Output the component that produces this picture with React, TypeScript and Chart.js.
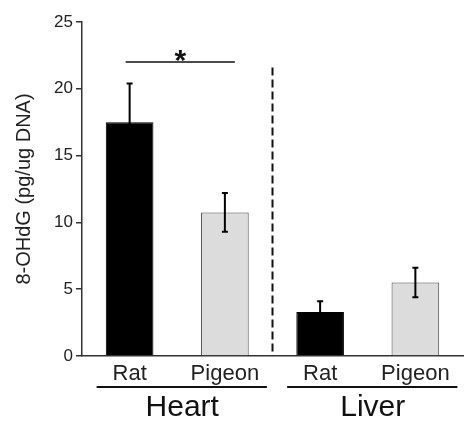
import React, { useEffect, useRef } from "react";
import { Chart, registerables } from "chart.js";

Chart.register(...registerables);

const categories = ["Rat", "Pigeon", "Rat", "Pigeon"];
const groups = ["Heart", "Liver"];
const values = [17.5, 10.75, 3.3, 5.5];
const errors = [2.9, 1.45, 0.8, 1.1];
const barColors = ["#000000", "#dcdcdc", "#000000", "#dcdcdc"];
const barBorders = ["#000000", "#444444", "#000000", "#444444"];
const yTicks = [0, 5, 10, 15, 20, 25];
const sigLevel = 22;
const dividerTop = 21.6;

const FONT = "'Liberation Sans', Arial, sans-serif";

const annotPlugin = {
  id: "annot",
  afterDatasetsDraw(chart: any) {
    const ctx = chart.ctx;
    const x = chart.scales.x;
    const y = chart.scales.y;
    const area = chart.chartArea;
    ctx.save();
    // error bars
    ctx.strokeStyle = "#000";
    ctx.lineWidth = 2;
    values.forEach((v, i) => {
      const cx = x.getPixelForValue(i);
      const top = y.getPixelForValue(v + errors[i]);
      const bot = y.getPixelForValue(v - errors[i]);
      ctx.beginPath();
      ctx.moveTo(cx, top);
      ctx.lineTo(cx, bot);
      ctx.moveTo(cx - 3, top);
      ctx.lineTo(cx + 3, top);
      ctx.moveTo(cx - 3, bot);
      ctx.lineTo(cx + 3, bot);
      ctx.stroke();
    });
    // dashed divider
    const dx = (x.getPixelForValue(1) + x.getPixelForValue(2)) / 2;
    ctx.setLineDash([8, 4]);
    ctx.lineWidth = 2;
    ctx.strokeStyle = "#111";
    ctx.beginPath();
    ctx.moveTo(dx, y.getPixelForValue(dividerTop));
    ctx.lineTo(dx, area.bottom);
    ctx.stroke();
    ctx.setLineDash([]);
    // significance line
    const sx0 = x.getPixelForValue(0) - 4;
    const sx1 = x.getPixelForValue(1) + 10;
    const sy = y.getPixelForValue(sigLevel);
    ctx.lineWidth = 1.5;
    ctx.beginPath();
    ctx.moveTo(sx0, sy);
    ctx.lineTo(sx1, sy);
    ctx.stroke();
    ctx.fillStyle = "#111";
    ctx.font = `bold 30px ${FONT}`;
    ctx.textAlign = "center";
    ctx.textBaseline = "alphabetic";
    ctx.fillText("*", (sx0 + sx1) / 2, sy + 8);
    ctx.restore();
  },
  afterDraw(chart: any) {
    const ctx = chart.ctx;
    const x = chart.scales.x;
    const area = chart.chartArea;
    ctx.save();
    ctx.strokeStyle = "#111";
    ctx.lineWidth = 2;
    ctx.fillStyle = "#111";
    ctx.font = `30px ${FONT}`;
    ctx.textAlign = "center";
    ctx.textBaseline = "middle";
    groups.forEach((g, gi) => {
      const a = x.getPixelForValue(gi * 2);
      const b = x.getPixelForValue(gi * 2 + 1);
      const ly = area.bottom + 31;
      ctx.beginPath();
      ctx.moveTo(a - 33, ly);
      ctx.lineTo(b + 42, ly);
      ctx.stroke();
      ctx.fillText(g, (a + b) / 2 + 5, area.bottom + 52);
    });
    ctx.restore();
  },
};

export default function App() {
  const ref = useRef<HTMLCanvasElement>(null);
  useEffect(() => {
    if (!ref.current) return;
    const chart = new Chart(ref.current, {
      type: "bar",
      data: {
        labels: categories,
        datasets: [
          {
            data: values,
            backgroundColor: barColors,
            borderColor: barBorders,
            borderWidth: 1,
            barPercentage: 0.5,
            categoryPercentage: 1,
          },
        ],
      },
      options: {
        responsive: false,
        animation: false,
        layout: { padding: { top: 22, right: 1, left: 0, bottom: 0 } },
        plugins: { legend: { display: false }, tooltip: { enabled: false } },
        scales: {
          x: {
            type: "category",
            grid: { display: false, drawTicks: false },
            border: { display: true, color: "#333", width: 1.5 },
            ticks: { color: "#222", font: { family: FONT, size: 22 }, padding: 5 },
            afterFit: (s: any) => {
              s.height = 65;
            },
          },
          y: {
            min: 0,
            max: 25,
            afterBuildTicks: (s: any) => {
              s.ticks = yTicks.map((v) => ({ value: v }));
            },
            ticks: { color: "#222", font: { family: FONT, size: 17 }, padding: 3 },
            grid: { drawOnChartArea: false, drawTicks: true, tickLength: 6, color: "#333", lineWidth: 1.5 },
            border: { display: true, color: "#333", width: 1.5 },
            title: {
              display: true,
              text: "8-OHdG (pg/ug DNA)",
              color: "#222",
              font: { family: FONT, size: 20 },
              padding: { top: 12, bottom: 0 },
            },
            afterFit: (s: any) => {
              s.width = 82;
            },
          },
        },
      },
      plugins: [annotPlugin],
    });
    return () => chart.destroy();
  }, []);
  return (
    <div style={{ position: "absolute", left: 0, top: 0, width: 464, height: 421, background: "#fff" }}>
      <canvas ref={ref} width={464} height={421} style={{ display: "block" }} />
    </div>
  );
}
